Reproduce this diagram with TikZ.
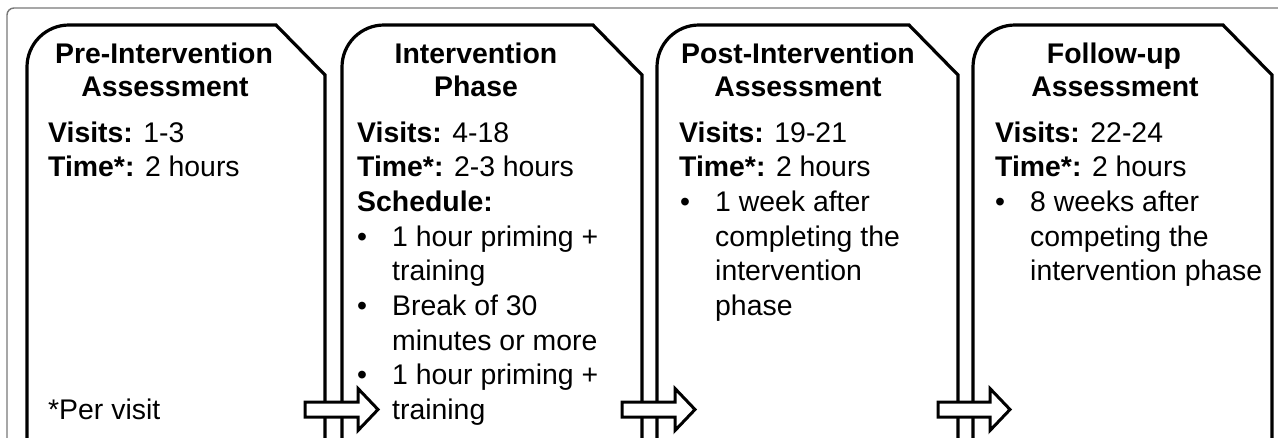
\documentclass[tikz,border=0pt]{standalone}
\usepackage{fontspec}
\setmainfont{Liberation Sans}
\usetikzlibrary{calc}
\newcommand\myfs{\fontsize{28.4}{34.7}\selectfont}
\tikzset{
  frameline/.style={draw={rgb,255:red,120;green,120;blue,120}, line width=1.4pt},
  boxline/.style={draw=black, line width=3.2pt, line join=miter},
  blockarrow/.style={draw=black, fill=white, line width=3pt, line join=miter},
  ln/.style={anchor=base west, inner sep=0pt, font=\myfs},
  ttl/.style={anchor=base, inner sep=0pt, font=\myfs\bfseries},
}
\newcommand\bul{\makebox[35pt][l]{•}}
\begin{document}
\begin{tikzpicture}[x=1pt,y=-1pt]
\useasboundingbox (0,0) rectangle (1278,437);
\clip (0,0) rectangle (1278,437);
\fill[white] (0,0) rectangle (1278,437);
% outer frame
\draw[frameline, rounded corners=7pt] (7,8) rectangle (1320,470);
% phase boxes
\foreach \L/\R in {27/325, 342/642, 657/958, 973/1272}{
  \draw[boxline] (\L,470) [rounded corners=42pt] -- (\L,25) [sharp corners] -- ({\R-49},25) -- (\R,75) -- (\R,470);
}
% arrows between boxes
\coordinate (a1s) at (305,409.5); \coordinate (a1e) at (378,409.5);
\coordinate (a2s) at (622,409.5); \coordinate (a2e) at (695,409.5);
\coordinate (a3s) at (938,409.5); \coordinate (a3e) at (1010,409.5);
\foreach \s/\e in {a1s/a1e, a2s/a2e, a3s/a3e}{
  \draw[blockarrow] ($(\s)+(0,-7.5)$) -- ($(\e)+(-20,-7.5)$) -- ($(\e)+(-20,-21)$) -- (\e)
     -- ($(\e)+(-20,21)$) -- ($(\e)+(-20,7.5)$) -- ($(\s)+(0,7.5)$) -- cycle;
}
% Box 1
\node[ttl] (t1a) at (164,63) {Pre-Intervention};
\node[ttl] (t1b) at (165,96) {Assessment};
\node[ln] (b1v) at (48,142) {\textbf{Visits:} 1-3};
\node[ln] (b1t) at (48,176.7) {\textbf{Time*:} 2 hours};
\node[ln] (b1p) at (48,419.6) {*Per visit};
% Box 2
\node[ttl] (t2a) at (476,63) {Intervention};
\node[ttl] (t2b) at (476,96) {Phase};
\node[ln] (b2v) at (357,142) {\textbf{Visits:} 4-18};
\node[ln] (b2t) at (357,176.7) {\textbf{Time*:} 2-3 hours};
\node[ln] (b2s) at (357,211.4) {\textbf{Schedule:}};
\node[ln] (b2a) at (357,246.1) {\bul 1 hour priming +};
\node[ln] (b2b) at (392,280.8) {training};
\node[ln] (b2c) at (357,315.5) {\bul Break of 30};
\node[ln] (b2d) at (392,350.2) {minutes or more};
\node[ln] (b2e) at (357,384.9) {\bul 1 hour priming +};
\node[ln] (b2f) at (392,419.6) {training};
% Box 3
\node[ttl] (t3a) at (798,63) {Post-Intervention};
\node[ttl] (t3b) at (798,96) {Assessment};
\node[ln] (b3v) at (679,142) {\textbf{Visits:} 19-21};
\node[ln] (b3t) at (679,176.7) {\textbf{Time*:} 2 hours};
\node[ln] (b3a) at (680,211.4) {\bul 1 week after};
\node[ln] (b3b) at (715,246.1) {completing the};
\node[ln] (b3c) at (715,280.8) {intervention};
\node[ln] (b3d) at (715,315.5) {phase};
% Box 4
\node[ttl] (t4a) at (1114,63) {Follow-up};
\node[ttl] (t4b) at (1115,96) {Assessment};
\node[ln] (b4v) at (995,142) {\textbf{Visits:} 22-24};
\node[ln] (b4t) at (995,176.7) {\textbf{Time*:} 2 hours};
\node[ln] (b4a) at (995,211.4) {\bul 8 weeks after};
\node[ln] (b4b) at (1030,246.1) {competing the};
\node[ln] (b4c) at (1030,280.8) {intervention phase};
\end{tikzpicture}
\end{document}
